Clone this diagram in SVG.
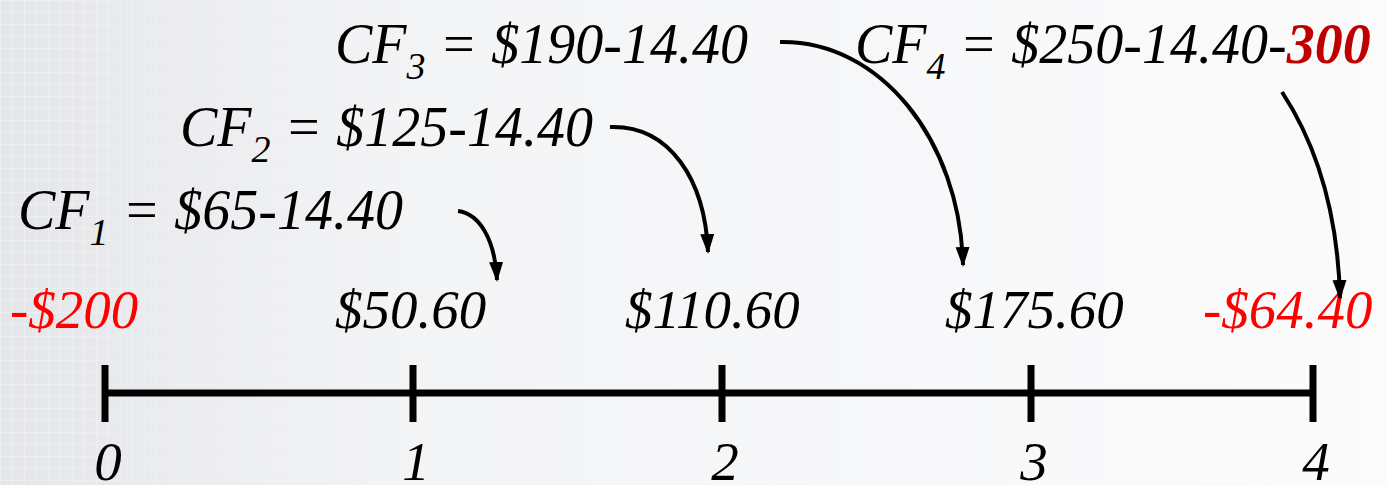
<svg xmlns="http://www.w3.org/2000/svg" width="1386" height="485" viewBox="0 0 1386 485">
  <defs>
    <linearGradient id="bg" x1="0" y1="0" x2="1" y2="0">
      <stop offset="0" stop-color="#e4e6e9"/>
      <stop offset="0.3" stop-color="#f3f4f6"/>
      <stop offset="1" stop-color="#fbfbfc"/>
    </linearGradient>
    <pattern id="grid" width="12" height="12" patternUnits="userSpaceOnUse">
      <path d="M12 0 L0 0 0 12" fill="none" stroke="#ffffff" stroke-width="1" opacity="0.6"/>
    </pattern>
    <linearGradient id="fade" x1="0" y1="0" x2="1" y2="0">
      <stop offset="0" stop-color="#fff" stop-opacity="1"/>
      <stop offset="1" stop-color="#fff" stop-opacity="0"/>
    </linearGradient>
    <mask id="gridmask">
      <rect x="0" y="0" width="450" height="485" fill="url(#fade)"/>
    </mask>
    <marker id="arrow" viewBox="0 0 10 10" refX="9" refY="5" markerWidth="20" markerHeight="20" markerUnits="userSpaceOnUse" orient="auto">
      <path d="M0 1.5 L10 5 L0 8.5 Z" fill="#000"/>
    </marker>
    <style>
      .t { font-family: "Liberation Serif", "Times New Roman", serif; font-style: italic; font-size: 55px; fill: #000; }
      .cf { font-size: 56px; }
      .red { fill: #ff0000; }
      .big300 { font-weight: bold; fill: #c00000; }
      .sub { font-size: 38px; }
      .axis { stroke: #000; stroke-width: 7; fill: none; }
      .conn { stroke: #000; stroke-width: 4; fill: none; marker-end: url(#arrow); }
    </style>
  </defs>

  <rect x="0" y="0" width="1386" height="485" fill="url(#bg)"/>
  <rect x="0" y="0" width="450" height="485" fill="url(#grid)" mask="url(#gridmask)"/>

  <g id="timeline">
    <line class="axis" x1="105" y1="393" x2="1313" y2="393"/>
    <line class="axis" x1="105" y1="365" x2="105" y2="422"/>
    <line class="axis" x1="413" y1="365" x2="413" y2="422"/>
    <line class="axis" x1="722" y1="365" x2="722" y2="422"/>
    <line class="axis" x1="1031" y1="365" x2="1031" y2="422"/>
    <line class="axis" x1="1313" y1="365" x2="1313" y2="422"/>
  </g>

  <g id="period-labels">
    <text class="t" x="108" y="480" text-anchor="middle">0</text>
    <text class="t" x="416" y="480" text-anchor="middle">1</text>
    <text class="t" x="725" y="480" text-anchor="middle">2</text>
    <text class="t" x="1034" y="480" text-anchor="middle">3</text>
    <text class="t" x="1316" y="480" text-anchor="middle">4</text>
  </g>

  <g id="value-labels">
    <text class="t red" x="10" y="328">-$200</text>
    <text class="t" x="335" y="328">$50.60</text>
    <text class="t" x="625" y="328">$110.60</text>
    <text class="t" x="945" y="328">$175.60</text>
    <text class="t red" x="1203" y="328">-$64.40</text>
  </g>

  <g id="cf1">
    <text class="t cf" x="18" y="229">CF<tspan class="sub" dy="16">1</tspan><tspan dy="-16"> = $65-14.40</tspan></text>
  </g>
  <g id="cf2">
    <text class="t cf" x="180" y="146">CF<tspan class="sub" dy="16">2</tspan><tspan dy="-16"> = $125-14.40</tspan></text>
  </g>
  <g id="cf3">
    <text class="t cf" x="335" y="63">CF<tspan class="sub" dy="16">3</tspan><tspan dy="-16"> = $190-14.40</tspan></text>
  </g>
  <g id="cf4">
    <text class="t cf" x="855" y="63">CF<tspan class="sub" dy="16">4</tspan><tspan dy="-16"> = $250-14.40-</tspan><tspan class="big300">300</tspan></text>
  </g>

  <g id="connectors">
    <path class="conn" d="M458 211 C480 214 495 240 497 280"/>
    <path class="conn" d="M610 127 C670 125 705 180 708 252"/>
    <path class="conn" d="M780 42 C880 40 960 140 963 265"/>
    <path class="conn" d="M1282 92 C1320 150 1338 220 1340 298"/>
  </g>
</svg>
